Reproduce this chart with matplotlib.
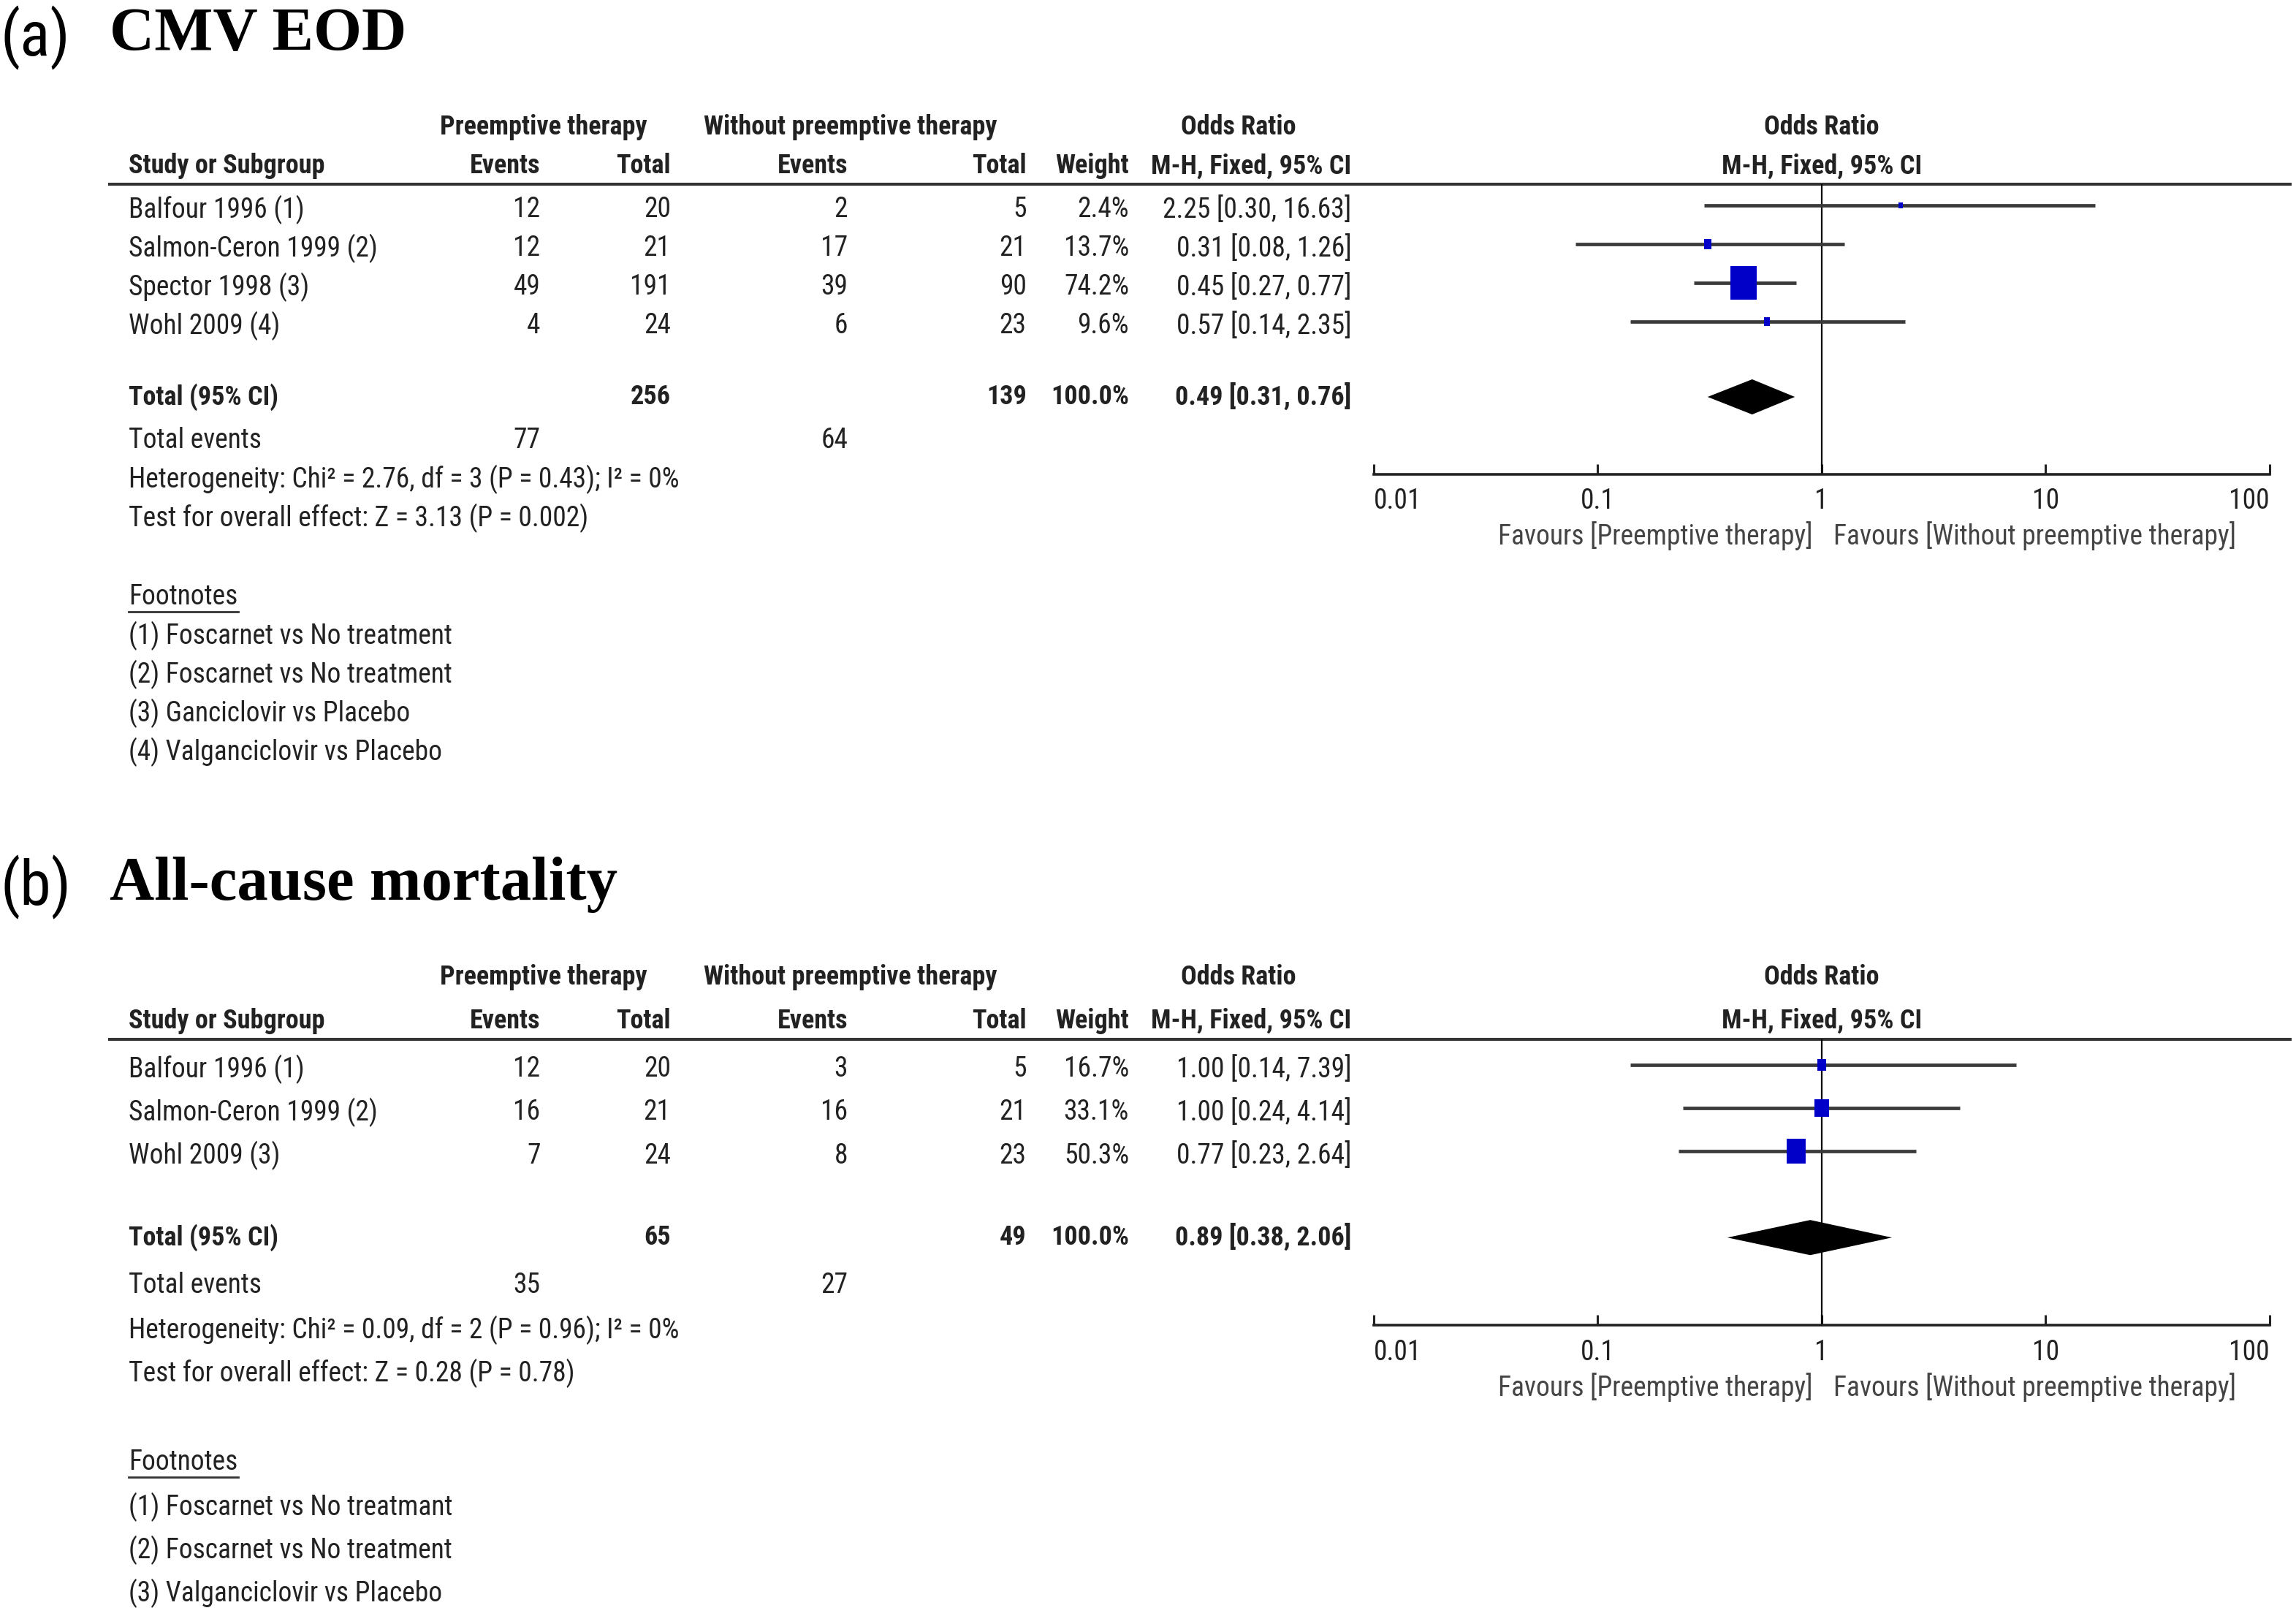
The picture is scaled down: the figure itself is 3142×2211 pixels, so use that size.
import numpy as np
import matplotlib
matplotlib.use("Agg")
import matplotlib.pyplot as plt
from matplotlib import font_manager
from matplotlib.path import Path

# ---- data: panel (a) CMV EOD ----
studies_a = ["Balfour 1996 (1)", "Salmon-Ceron 1999 (2)", "Spector 1998 (3)", "Wohl 2009 (4)"]
pre_events_a = [12, 12, 49, 4]
pre_total_a = [20, 21, 191, 24]
wo_events_a = [2, 17, 39, 6]
wo_total_a = [5, 21, 90, 23]
weight_a = [2.4, 13.7, 74.2, 9.6]
or_a = [2.25, 0.31, 0.45, 0.57]
lo_a = [0.30, 0.08, 0.27, 0.14]
hi_a = [16.63, 1.26, 0.77, 2.35]
total_a = [256, 139]
total_weight_a = 100.0
events_a = [77, 64]
pooled_a = [0.49, 0.31, 0.76]
het_a = "Heterogeneity: Chi² = 2.76, df = 3 (P = 0.43); I² = 0%"
test_a = "Test for overall effect: Z = 3.13 (P = 0.002)"
notes_a = ["(1) Foscarnet vs No treatment", "(2) Foscarnet vs No treatment",
           "(3) Ganciclovir vs Placebo", "(4) Valganciclovir vs Placebo"]

# ---- data: panel (b) all-cause mortality ----
studies_b = ["Balfour 1996 (1)", "Salmon-Ceron 1999 (2)", "Wohl 2009 (3)"]
pre_events_b = [12, 16, 7]
pre_total_b = [20, 21, 24]
wo_events_b = [3, 16, 8]
wo_total_b = [5, 21, 23]
weight_b = [16.7, 33.1, 50.3]
or_b = [1.00, 1.00, 0.77]
lo_b = [0.14, 0.24, 0.23]
hi_b = [7.39, 4.14, 2.64]
total_b = [65, 49]
total_weight_b = 100.0
events_b = [35, 27]
pooled_b = [0.89, 0.38, 2.06]
het_b = "Heterogeneity: Chi² = 0.09, df = 2 (P = 0.96); I² = 0%"
test_b = "Test for overall effect: Z = 0.28 (P = 0.78)"
notes_b = ["(1) Foscarnet vs No treatmant", "(2) Foscarnet vs No treatment",
           "(3) Valganciclovir vs Placebo"]

ticks = [0.01, 0.1, 1, 10, 100]
tick_labels = ["0.01", "0.1", "1", "10", "100"]

# ---- fonts: narrow sans with a real bold face if one is installed ----
def weight_num(w):
    return w if isinstance(w, (int, float)) else font_manager.weight_dict.get(w, 400)

faces = {}
for f in font_manager.fontManager.ttflist:
    if f.style == "normal":
        faces.setdefault(f.name, set()).add(weight_num(f.weight))

prefer = ["Liberation Sans Narrow", "Arial Narrow", "Roboto Condensed",
          "Open Sans Condensed", "Noto Sans Condensed", "DejaVu Sans Condensed"]
others = sorted(n for n in faces if ("Narrow" in n or "Condensed" in n) and n not in prefer)
cands = [n for n in prefer + others if n in faces]
with_bold = [n for n in cands if max(faces[n]) >= 600 and min(faces[n]) <= 500]

if with_bold:
    SANS = BSANS = with_bold[0]
    FS, BFS = 27, 26
elif cands:
    SANS, FS = cands[0], 27
    BSANS, BFS = "Liberation Sans", 23
else:
    SANS, FS = "Liberation Sans", 25
    BSANS, BFS = "Liberation Sans", 23
plt.rcParams["font.family"] = [SANS, "DejaVu Sans"]

W = 1568.0
S = 3142 / W
H = 2211 / S
TXT = "#222222"
GREY = "#444444"
BLUE = "#0000C8"

fig = plt.figure(figsize=(31.42, 22.11), dpi=100)
ax = fig.add_axes([0, 0, 1, 1])
ax.set_xlim(0, W)
ax.set_ylim(H, 0)
ax.axis("off")

# column anchors (right aligned)
X_NAME, X_PE, X_PT, X_WE, X_WT, X_WGT, X_CI = 88, 369, 458, 579, 701, 771, 923
F_LEFT, F_RIGHT, F_MID = 938, 1550, 1244

BOX = Path([(-0.4, -0.5), (0.4, -0.5), (0.4, 0.5), (-0.4, 0.5), (-0.4, -0.5)],
           [Path.MOVETO, Path.LINETO, Path.LINETO, Path.LINETO, Path.CLOSEPOLY])


def t(x, y, s, ha="left", bold=False, color=TXT, size=None, **kw):
    if bold:
        return ax.text(x, y, s, ha=ha, va="center", fontsize=size or BFS, color=color,
                       family=[BSANS, "DejaVu Sans"], fontweight="bold", **kw)
    return ax.text(x, y, s, ha=ha, va="center", fontsize=size or FS, color=color, **kw)


def panel(lay, letter, title, studies, pe, ptot, we, wtot, wgt, orv, lo, hi,
          tot, tot_w, ev, pooled, het, test, notes):
    t(0, lay["title"] + 8, letter, size=62, color="black")
    ax.text(75, lay["title"] + 6, title, ha="left", va="center", fontsize=61,
            family="Liberation Serif", fontweight="bold", color="black")

    # headers
    h1, h2 = lay["h1"], lay["h2"]
    t(371, h1, "Preemptive therapy", ha="center", bold=True)
    t(581, h1, "Without preemptive therapy", ha="center", bold=True)
    t(846, h1, "Odds Ratio", ha="center", bold=True)
    t(F_MID, h1, "Odds Ratio", ha="center", bold=True)
    t(X_NAME, h2, "Study or Subgroup", bold=True)
    t(X_PE, h2, "Events", ha="right", bold=True)
    t(X_PT, h2, "Total", ha="right", bold=True)
    t(X_WE, h2, "Events", ha="right", bold=True)
    t(X_WT, h2, "Total", ha="right", bold=True)
    t(X_WGT, h2, "Weight", ha="right", bold=True)
    t(X_CI, h2, "M-H, Fixed, 95% CI", ha="right", bold=True)
    t(F_MID, h2, "M-H, Fixed, 95% CI", ha="center", bold=True)
    ax.plot([74, 1565], [lay["line"], lay["line"]], color="#333333", lw=2.9,
            solid_capstyle="butt")

    rows = [lay["row0"] + i * lay["step"] for i in range(len(studies))]
    for i, y in enumerate(rows):
        t(X_NAME, y, studies[i])
        t(X_PE, y, str(pe[i]), ha="right")
        t(X_PT, y, str(ptot[i]), ha="right")
        t(X_WE, y, str(we[i]), ha="right")
        t(X_WT, y, str(wtot[i]), ha="right")
        t(X_WGT, y, f"{wgt[i]:.1f}%", ha="right")
        t(X_CI, y, f"{orv[i]:.2f} [{lo[i]:.2f}, {hi[i]:.2f}]", ha="right")

    yt = lay["total"]
    t(X_NAME, yt, "Total (95% CI)", bold=True)
    t(X_PT, yt, str(tot[0]), ha="right", bold=True)
    t(X_WT, yt, str(tot[1]), ha="right", bold=True)
    t(X_WGT, yt, f"{tot_w:.1f}%", ha="right", bold=True)
    t(X_CI, yt, f"{pooled[0]:.2f} [{pooled[1]:.2f}, {pooled[2]:.2f}]", ha="right", bold=True)
    t(X_NAME, lay["events"], "Total events")
    t(X_PE, lay["events"], str(ev[0]), ha="right")
    t(X_WE, lay["events"], str(ev[1]), ha="right")
    t(X_NAME, lay["het"], het)
    t(X_NAME, lay["test"], test)

    fn = t(X_NAME, lay["foot"], "Footnotes")
    fig.canvas.draw()
    bb = fn.get_window_extent().transformed(ax.transData.inverted())
    ax.plot([bb.x0, bb.x1], [lay["foot"] + 10, lay["foot"] + 10], color="#333333", lw=2)
    for i, note in enumerate(notes):
        t(X_NAME, lay["note0"] + i * lay["nstep"], note)

    # forest plot
    fa = fig.add_axes([F_LEFT / W, 1 - lay["axis"] / H, (F_RIGHT - F_LEFT) / W,
                       (lay["axis"] - lay["line"]) / H])
    fa.set_xscale("log")
    fa.set_xlim(0.01, 100)
    fa.set_ylim(lay["axis"], lay["line"])
    fa.patch.set_visible(False)
    for s in ["top", "left", "right"]:
        fa.spines[s].set_visible(False)
    fa.spines["bottom"].set_linewidth(2.6)
    fa.spines["bottom"].set_color("#222222")
    fa.set_yticks([])
    fa.set_xticks(ticks)
    fa.set_xticklabels(tick_labels)
    fa.minorticks_off()
    fa.tick_params(axis="x", direction="in", length=10, width=2.2, labelsize=FS,
                   pad=13, labelcolor=TXT, color="#222222")
    labs = fa.get_xticklabels()
    labs[0].set_ha("left")
    labs[-1].set_ha("right")
    fa.axvline(1, color="black", lw=1.6)

    for i, y in enumerate(rows):
        ym = y - 3
        fa.plot([lo[i], hi[i]], [ym, ym], color="#3a3a3a", lw=3.4,
                solid_capstyle="butt", clip_on=False)
        hpx = 3 + 0.27 * wgt[i]
        fa.plot(orv[i], ym, marker=BOX, ms=hpx * S * 0.72, color=BLUE,
                mec=BLUE, mew=0, clip_on=False)
    est, plo, phi = pooled
    fa.fill([plo, est, phi, est], [yt, yt - 12, yt, yt + 12], color="black", lw=0)

    yf = lay["axis"] + 42
    t(F_MID - 6, yf, "Favours [Preemptive therapy]", ha="right", color=GREY)
    t(F_MID + 8, yf, "Favours [Without preemptive therapy]", color=GREY)


lay_a = dict(title=18, h1=87, h2=113.5, line=126, row0=143.2, step=26.4,
             total=271, events=300.5, het=327.5, test=354, axis=324,
             foot=407.5, note0=434, nstep=26.5)
lay_b = dict(title=598, h1=667, h2=697, line=709.5, row0=730, step=29.5,
             total=845, events=877.5, het=908, test=937.5, axis=905,
             foot=998.5, note0=1029, nstep=29.5)

panel(lay_a, "(a)", "CMV EOD", studies_a, pre_events_a, pre_total_a, wo_events_a,
      wo_total_a, weight_a, or_a, lo_a, hi_a, total_a, total_weight_a, events_a,
      pooled_a, het_a, test_a, notes_a)
panel(lay_b, "(b)", "All-cause mortality", studies_b, pre_events_b, pre_total_b,
      wo_events_b, wo_total_b, weight_b, or_b, lo_b, hi_b, total_b, total_weight_b,
      events_b, pooled_b, het_b, test_b, notes_b)

fig.savefig("out.png", dpi=100, facecolor="white")
